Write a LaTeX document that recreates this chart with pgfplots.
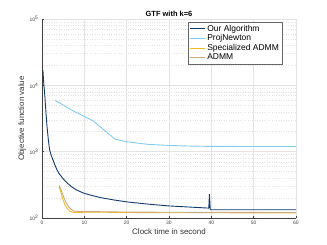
\documentclass[border=0pt]{standalone}
\usepackage{pgfplots}
\pgfplotsset{compat=1.18}
\usepackage{fontspec}
\setmainfont{Liberation Sans}
\definecolor{ouralg}{HTML}{0E3A6B}
\definecolor{projn}{HTML}{80CDEF}
\definecolor{sadmm}{HTML}{F2B824}
\definecolor{admm}{HTML}{C9A97E}
\definecolor{axgray}{HTML}{404040}
\definecolor{gridc}{HTML}{E3E3E3}
\begin{document}
\begin{tikzpicture}[x=1bp,y=1bp]
\path[use as bounding box] (0,0) rectangle (327,245);
\begin{axis}[
  at={(42bp,27bp)}, anchor=south west,
  scale only axis, width=254bp, height=199bp,
  ymode=log, xmin=0, xmax=60, ymin=100, ymax=100000,
  axis x line*=bottom, axis y line*=left,
  axis line style={axgray, line width=0.5pt},
  xtick={0,10,...,60},
  ytick={100,1000,10000,100000},
  yticklabels={10\textsuperscript{2},10\textsuperscript{3},10\textsuperscript{4},10\textsuperscript{5}},
  tick align=inside,
  major tick length=2pt, minor tick length=1pt,
  tick style={axgray, line width=0.4pt},
  xmajorgrids, ymajorgrids, yminorgrids,
  major grid style={gridc, line width=0.4pt},
  minor grid style={gridc, dotted, line width=0.4pt},
  ticklabel style={font=\fontsize{5}{5.5}\selectfont, text=axgray},
  /pgf/number format/assume math mode=true,
  xlabel={Clock time in second},
  ylabel={Objective function value},
  label style={font=\fontsize{8}{9}\selectfont, text=black!80},
  xlabel style={yshift=3pt},
  ylabel style={yshift=-3pt},
  title={\textbf{GTF with k=6}},
  title style={font=\fontsize{7.5}{8}\selectfont, yshift=-7pt},
  legend style={at={(0.945,0.985)}, anchor=north east, draw=axgray!80, line width=0.4pt,
    font=\fontsize{8.5}{9}\selectfont, inner sep=1pt, row sep=-2pt,
    legend cell align=left},
  legend image code/.code={\draw[#1, line width=1pt] (0pt,0pt) -- (15pt,0pt);},
]
\addplot[ouralg, line width=0.9pt] coordinates {
(0.22,17000) (0.4,11000) (0.63,7500) (0.9,4200) (1.18,2400) (1.5,1500) (1.8,1070)
(2.2,870) (2.6,750) (3.0,640) (3.5,540) (4.0,470) (5.0,390) (6.0,335) (7.0,296)
(8.0,268) (9.0,250) (10,235) (12,217) (14,202) (17,187) (20,175) (25,162) (30,152)
(35,146) (39.4,141) (39.55,228) (39.75,133) (60,133)};
\addlegendentry{Our Algorithm}
\addplot[projn, line width=0.9pt] coordinates {
(3.1,5900) (4.25,5400) (7.4,4100) (11.7,3000) (12,2950) (17.2,1550) (20,1410)
(25,1290) (30,1240) (35,1215) (40,1200) (60,1195)};
\addlegendentry{ProjNewton}
\addplot[sadmm, line width=0.9pt] coordinates {
(4.0,300) (4.5,240) (5,185) (5.5,155) (6,138) (6.5,128) (7,123) (8,121) (10,122)
(15,122) (20,121) (30,120) (40,120) (60,119)};
\addlegendentry{Specialized ADMM}
\addplot[admm, line width=0.9pt] coordinates {
(4.1,310) (4.6,255) (5.2,200) (5.8,165) (6.4,145) (7,133) (7.6,127) (9,125) (12,125)
(15,124) (20,123) (30,122) (60,121)};
\addlegendentry{ADMM}
\end{axis}
\end{tikzpicture}
\end{document}
